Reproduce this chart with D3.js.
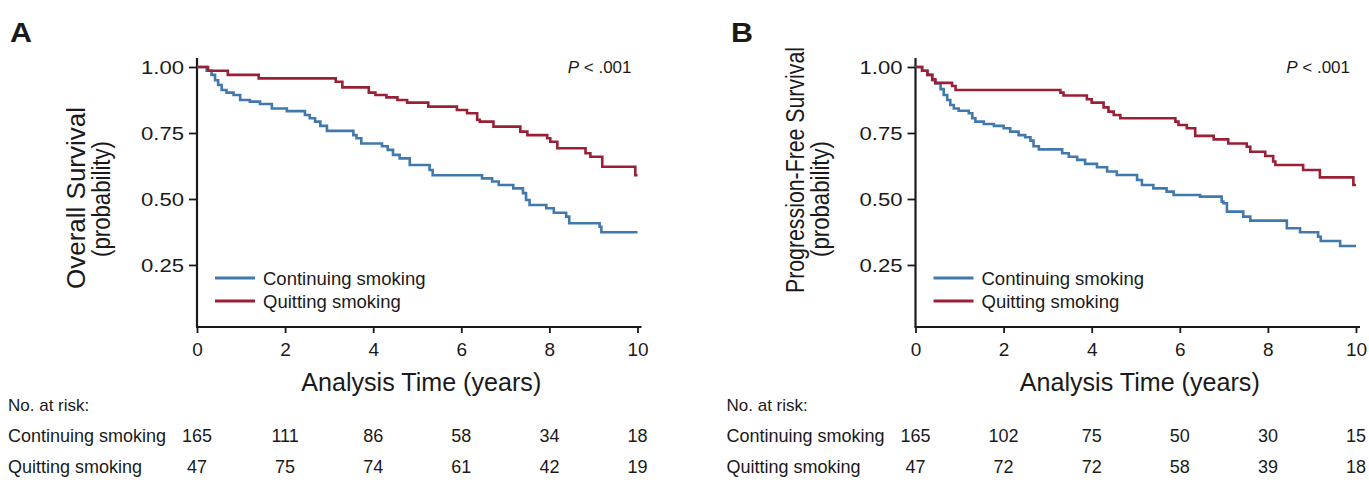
<!DOCTYPE html>
<html><head><meta charset="utf-8">
<script src="https://cdn.jsdelivr.net/npm/d3@7"></script>
<style>
html,body{margin:0;padding:0;background:#fff;}
text{font-family:"Liberation Sans",Arial,Helvetica,sans-serif;fill:#1a1a1a;}
</style></head>
<body>
<svg id="chart" width="1369" height="493"></svg>
<script>
// ---------- DATA ----------
const seriesNames = ["Continuing smoking", "Quitting smoking"];
const xTicks = [0, 2, 4, 6, 8, 10];
const yTicks = [0.25, 0.50, 0.75, 1.00];

// Panel A: Overall survival (step drops: time, survival after drop)
const osContTime = [0,0.22,0.33,0.41,0.48,0.56,0.67,0.83,0.98,1.2,1.43,1.7,2.04,2.45,2.56,2.68,2.8,2.95,3.55,3.62,3.73,4.2,4.33,4.45,4.6,4.83,5.28,5.35,6.47,6.7,6.85,7.18,7.4,7.47,7.55,7.93,8.1,8.38,8.45,9.14,9.18];
const osContSurv = [1,0.986,0.97,0.95,0.932,0.913,0.903,0.894,0.875,0.869,0.86,0.843,0.833,0.818,0.806,0.793,0.777,0.758,0.742,0.73,0.71,0.70,0.686,0.667,0.654,0.629,0.61,0.59,0.578,0.566,0.553,0.54,0.522,0.496,0.477,0.465,0.448,0.433,0.408,0.395,0.374];
const osQuitTime = [0,0.25,0.7,1.4,3.15,3.3,3.9,4.05,4.3,4.55,4.77,5.25,5.9,6.13,6.36,6.42,6.73,7.34,7.5,7.95,8.02,8.18,8.82,8.93,9.2,9.95];
const osQuitSurv = [1,0.986,0.97,0.957,0.944,0.923,0.903,0.894,0.885,0.875,0.865,0.85,0.837,0.825,0.80,0.793,0.774,0.755,0.742,0.73,0.717,0.692,0.673,0.66,0.622,0.59];

// Panel B: Progression-free survival
const pfsContTime = [0,0.15,0.27,0.38,0.45,0.57,0.64,0.72,0.79,0.87,0.98,1.21,1.29,1.36,1.55,1.78,2.0,2.15,2.34,2.49,2.61,2.68,2.8,3.33,3.48,3.67,3.85,4.12,4.35,4.57,5.03,5.14,5.4,5.7,5.86,6.46,6.95,6.99,7.07,7.44,7.6,8.43,8.73,9.14,9.2,9.64];
const pfsContSurv = [1,0.986,0.97,0.95,0.938,0.916,0.894,0.875,0.856,0.843,0.834,0.825,0.806,0.793,0.784,0.777,0.768,0.755,0.742,0.734,0.721,0.70,0.688,0.673,0.66,0.648,0.633,0.62,0.604,0.591,0.572,0.553,0.54,0.528,0.515,0.509,0.49,0.484,0.452,0.433,0.418,0.389,0.374,0.357,0.341,0.322];
const pfsQuitTime = [0,0.15,0.27,0.38,0.45,0.83,0.91,3.29,3.36,3.89,4.0,4.27,4.38,4.5,4.65,5.9,5.97,6.16,6.35,6.77,7.1,7.52,7.6,7.94,8.12,8.17,8.8,9.18,9.94];
const pfsQuitSurv = [1,0.986,0.97,0.953,0.94,0.928,0.913,0.903,0.892,0.878,0.865,0.847,0.831,0.818,0.806,0.793,0.78,0.768,0.739,0.726,0.71,0.698,0.679,0.663,0.642,0.629,0.61,0.582,0.553];

// Numbers at risk (at xTicks)
const osRiskCont = [165, 111, 86, 58, 34, 18];
const osRiskQuit = [47, 75, 74, 61, 42, 19];
const pfsRiskCont = [165, 102, 75, 50, 30, 15];
const pfsRiskQuit = [47, 72, 72, 58, 39, 18];

const endTime = 10;
const colors = ["#4279ad", "#9a2035"];

// ---------- DRAW ----------
const svg = d3.select("#chart");

function stretch(sel, len) {
  sel.attr("textLength", len).attr("lengthAdjust", "spacingAndGlyphs");
}

function drawPanel(p) {
  const g = svg.append("g");
  const x = d3.scaleLinear().domain([0, 10]).range([p.x0, p.x0 + 440.5]);
  const y = d3.scaleLinear().domain([0.015, 1]).range([327, 67]);

  // y axis
  const ya = g.append("g").attr("transform", `translate(${x(0)},0)`)
    .call(d3.axisLeft(y).tickValues(yTicks).tickFormat(d3.format(".2f")).tickSize(8).tickPadding(5));
  ya.select(".domain").remove();
  ya.selectAll(".tick line").attr("stroke", "#1a1a1a").attr("stroke-width", 1.8);
  ya.selectAll(".tick text").style("font-size", "19px").attr("fill", "#1a1a1a").each(function(){ stretch(d3.select(this), 43); });

  // x axis
  const xa = g.append("g").attr("transform", `translate(0,${y(0.015)})`)
    .call(d3.axisBottom(x).tickValues(xTicks).tickSize(6).tickPadding(10));
  xa.select(".domain").remove();
  xa.selectAll(".tick line").attr("stroke", "#1a1a1a").attr("stroke-width", 1.8);
  xa.selectAll(".tick text").style("font-size", "19px").attr("fill", "#1a1a1a");

  // axis lines
  g.append("line").attr("x1", x(0)).attr("x2", x(0)).attr("y1", y(1) - 9).attr("y2", y(0.015))
    .attr("stroke", "#1a1a1a").attr("stroke-width", 2.2);
  g.append("line").attr("x1", x(0) - 1).attr("x2", x(10) + 4).attr("y1", y(0.015)).attr("y2", y(0.015))
    .attr("stroke", "#1a1a1a").attr("stroke-width", 2.2);

  // curves
  const line = d3.line().curve(d3.curveStepAfter).x(d => x(d[0])).y(d => y(d[1]));
  p.series.forEach((s, i) => {
    const pts = s.t.map((t, j) => [t, s.v[j]]);
    pts.push([endTime, s.v[s.v.length - 1]]);
    g.append("path").datum(pts).attr("d", line).attr("fill", "none")
      .attr("stroke", colors[i]).attr("stroke-width", 2.6).attr("stroke-linejoin", "miter");
  });

  // legend
  seriesNames.forEach((n, i) => {
    const ly = 278 + i * 23;
    g.append("line").attr("x1", x(0) + 18).attr("x2", x(0) + 58).attr("y1", ly).attr("y2", ly)
      .attr("stroke", colors[i]).attr("stroke-width", 3);
    g.append("text").attr("x", x(0) + 66).attr("y", ly + 6.5).style("font-size", "18.5px").text(n);
  });

  // P value
  const pt = g.append("text").attr("x", x(10) - 6).attr("y", 73).attr("text-anchor", "end").style("font-size", "17px");
  pt.append("tspan").style("font-style", "italic").text("P");
  pt.append("tspan").text(" < .001");

  // panel letter
  const lt = g.append("text").attr("x", p.letterX).attr("y", 42).style("font-size", "27px").style("font-weight", "bold").text(p.letter);
  stretch(lt, 22);

  // y label
  const yl = g.append("g").attr("transform", `translate(${x(0) - 112},${p.yLabelCenter}) rotate(-90)`);
  const t1 = yl.append("text").attr("text-anchor", "middle").style("font-size", "25px").text(p.yLabel);
  stretch(t1, p.yLabelLen);
  const yl2 = g.append("g").attr("transform", `translate(${x(0) - 87},${y(0.5)}) rotate(-90)`);
  const t2 = yl2.append("text").attr("text-anchor", "middle").style("font-size", "25px").text("(probability)");
  stretch(t2, 116);

  // x label
  const xt = g.append("text").attr("x", (x(0) + x(10)) / 2 + 4).attr("y", 391).attr("text-anchor", "middle")
    .style("font-size", "25px").text("Analysis Time (years)");
  stretch(xt, 240);

  // risk table
  const lx = x(0) - 189;
  g.append("text").attr("x", lx).attr("y", 411).style("font-size", "17px").text("No. at risk:");
  const rows = [p.riskCont, p.riskQuit];
  rows.forEach((r, i) => {
    const ry = 442 + i * 31;
    g.append("text").attr("x", lx).attr("y", ry).style("font-size", "18px").text(seriesNames[i]);
    g.selectAll(null).data(r).enter().append("text")
      .attr("x", (d, j) => x(xTicks[j])).attr("y", ry).attr("text-anchor", "middle")
      .style("font-size", "18px").text(d => d);
  });
}

drawPanel({
  x0: 197, letter: "A", letterX: 10, yLabel: "Overall Survival", yLabelLen: 182, yLabelCenter: 198,
  series: [{t: osContTime, v: osContSurv}, {t: osQuitTime, v: osQuitSurv}],
  riskCont: osRiskCont, riskQuit: osRiskQuit
});
drawPanel({
  x0: 915.5, letter: "B", letterX: 731, yLabel: "Progression-Free Survival", yLabelLen: 246, yLabelCenter: 170,
  series: [{t: pfsContTime, v: pfsContSurv}, {t: pfsQuitTime, v: pfsQuitSurv}],
  riskCont: pfsRiskCont, riskQuit: pfsRiskQuit
});
</script>
</body></html>
